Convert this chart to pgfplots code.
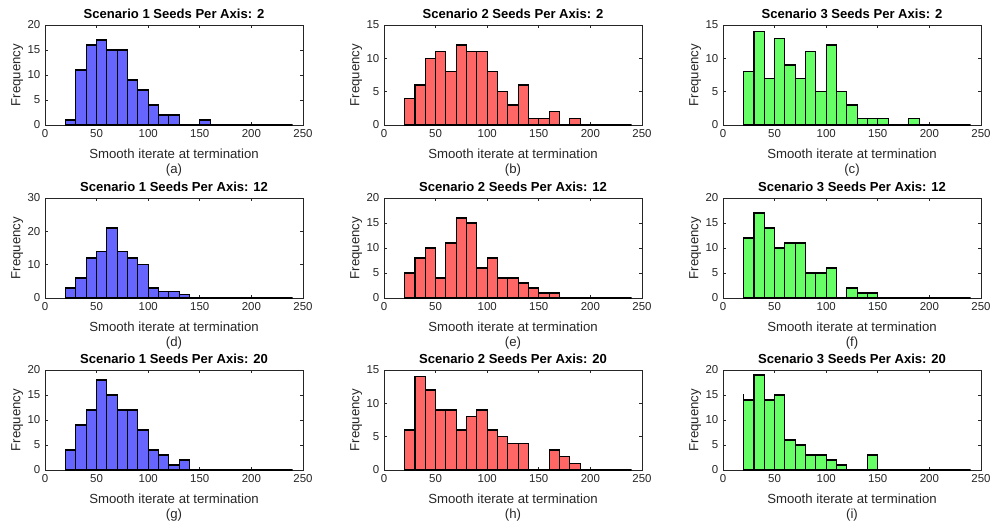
\documentclass[border=0pt]{standalone}
\usepackage{fontspec}
\setmainfont{Liberation Sans}
\usepackage{pgfplots}
\pgfplotsset{compat=1.18}
\definecolor{fblue}{RGB}{102,102,255}
\definecolor{fred}{RGB}{255,102,102}
\definecolor{fgreen}{RGB}{102,255,102}
\definecolor{axgray}{RGB}{38,38,38}
\pgfplotsset{hist/.style={
  scale only axis, width=193.5pt, height=75pt, anchor=south west, clip=false,
  xmin=0, xmax=250, ymin=0, xtick={0,50,...,250},
  tick align=inside, xtick pos=both, ytick pos=both, major tick length=2.2pt,
  /pgf/number format/assume math mode=true,
  axis line style={draw=axgray, line width=0.5pt},
  every tick/.style={draw=axgray, line width=0.5pt},
  ticklabel style={font=\fontsize{8.6}{9}\selectfont, text=axgray},
  xlabel={Smooth iterate at termination}, ylabel={Frequency},
  every axis x label/.style={at={(axis description cs:0.5,-0.29)}, anchor=center, font=\fontsize{9.9}{11}\selectfont, text=axgray},
  every axis y label/.style={at={(axis description cs:-0.108,0.5)}, anchor=center, rotate=90, font=\fontsize{9.9}{11}\selectfont, text=axgray},
  every axis title shift=0pt,
  title style={font=\bfseries\fontsize{9.8}{11}\selectfont, at={(axis description cs:0.5,1.11)}, anchor=center},
  hbar/.style={ybar interval, draw=black, line width=0.8pt},
}}
\newcommand{\sublabel}[1]{\node[font=\fontsize{9.9}{11}\selectfont, text=axgray] at (axis description cs:0.5,-0.45) {#1};}
\begin{document}
\begin{tikzpicture}
\useasboundingbox (0,0) rectangle (743.25pt,-393.75pt);
% (a)
\begin{axis}[hist, at={(33.75pt,-93.75pt)}, title={Scenario 1 Seeds Per Axis: 2}, ymax=20, ytick={0,5,10,15,20}]
\addplot[hbar, fill=fblue] coordinates {(20,1)(30,11)(40,16)(50,17)(60,15)(70,15)(80,9)(90,7)(100,4)(110,2)(120,2)(130,0)(140,0)(150,1)(160,0)(170,0)(180,0)(190,0)(200,0)(210,0)(220,0)(230,0)(240,0)};
\sublabel{(a)}
\end{axis}
% (b)
\begin{axis}[hist, at={(288pt,-93.75pt)}, title={Scenario 2 Seeds Per Axis: 2}, ymax=15, ytick={0,5,10,15}]
\addplot[hbar, fill=fred] coordinates {(20,4)(30,6)(40,10)(50,11)(60,8)(70,12)(80,11)(90,11)(100,8)(110,5)(120,3)(130,6)(140,1)(150,1)(160,2)(170,0)(180,1)(190,0)(200,0)(210,0)(220,0)(230,0)(240,0)};
\sublabel{(b)}
\end{axis}
% (c)
\begin{axis}[hist, at={(542.25pt,-93.75pt)}, title={Scenario 3 Seeds Per Axis: 2}, ymax=15, ytick={0,5,10,15}]
\addplot[hbar, fill=fgreen] coordinates {(19.6,2)(20.3,2)};
\addplot[hbar, fill=fgreen] coordinates {(20.3,8)(30,14)(40,7)(50,13)(60,9)(70,7)(80,11)(90,5)(100,12)(110,5)(120,3)(130,1)(140,1)(150,1)(160,0)(170,0)(180,1)(190,0)(200,0)(210,0)(220,0)(230,0)(240,0)};
\sublabel{(c)}
\end{axis}
% (d)
\begin{axis}[hist, at={(33.75pt,-223.5pt)}, title={Scenario 1 Seeds Per Axis: 12}, ymax=30, ytick={0,10,20,30}]
\addplot[hbar, fill=fblue] coordinates {(20,3)(30,6)(40,12)(50,14)(60,21)(70,14)(80,12)(90,10)(100,3)(110,2)(120,2)(130,1)(140,0)(150,0)(160,0)(170,0)(180,0)(190,0)(200,0)(210,0)(220,0)(230,0)(240,0)};
\sublabel{(d)}
\end{axis}
% (e)
\begin{axis}[hist, at={(288pt,-223.5pt)}, title={Scenario 2 Seeds Per Axis: 12}, ymax=20, ytick={0,5,10,15,20}]
\addplot[hbar, fill=fred] coordinates {(19.6,2)(20.3,2)};
\addplot[hbar, fill=fred] coordinates {(20.3,5)(30,8)(40,10)(50,4)(60,11)(70,16)(80,15)(90,6)(100,8)(110,4)(120,4)(130,3)(140,2)(150,1)(160,1)(170,0)(180,0)(190,0)(200,0)(210,0)(220,0)(230,0)(240,0)};
\sublabel{(e)}
\end{axis}
% (f)
\begin{axis}[hist, at={(542.25pt,-223.5pt)}, title={Scenario 3 Seeds Per Axis: 12}, ymax=20, ytick={0,5,10,15,20}]
\addplot[hbar, fill=fgreen] coordinates {(19.6,5)(20.3,5)};
\addplot[hbar, fill=fgreen] coordinates {(20.3,12)(30,17)(40,14)(50,10)(60,11)(70,11)(80,5)(90,5)(100,6)(110,0)(120,2)(130,1)(140,1)(150,0)(160,0)(170,0)(180,0)(190,0)(200,0)(210,0)(220,0)(230,0)(240,0)};
\sublabel{(f)}
\end{axis}
% (g)
\begin{axis}[hist, at={(33.75pt,-352.5pt)}, title={Scenario 1 Seeds Per Axis: 20}, ymax=20, ytick={0,5,10,15,20}]
\addplot[hbar, fill=fblue] coordinates {(20,4)(30,9)(40,12)(50,18)(60,15)(70,12)(80,12)(90,8)(100,4)(110,3)(120,1)(130,2)(140,0)(150,0)(160,0)(170,0)(180,0)(190,0)(200,0)(210,0)(220,0)(230,0)(240,0)};
\sublabel{(g)}
\end{axis}
% (h)
\begin{axis}[hist, at={(288pt,-352.5pt)}, title={Scenario 2 Seeds Per Axis: 20}, ymax=15, ytick={0,5,10,15}]
\addplot[hbar, fill=fred] coordinates {(19.6,2)(20.3,2)};
\addplot[hbar, fill=fred] coordinates {(20.3,6)(30,14)(40,12)(50,9)(60,9)(70,6)(80,8)(90,9)(100,6)(110,5)(120,4)(130,4)(140,0)(150,0)(160,3)(170,2)(180,1)(190,0)(200,0)(210,0)(220,0)(230,0)(240,0)};
\sublabel{(h)}
\end{axis}
% (i)
\begin{axis}[hist, at={(542.25pt,-352.5pt)}, title={Scenario 3 Seeds Per Axis: 20}, ymax=20, ytick={0,5,10,15,20}]
\addplot[hbar, fill=fgreen] coordinates {(19.6,15)(20.3,15)};
\addplot[hbar, fill=fgreen] coordinates {(20.3,14)(30,19)(40,14)(50,15)(60,6)(70,5)(80,3)(90,3)(100,2)(110,1)(120,0)(130,0)(140,3)(150,0)(160,0)(170,0)(180,0)(190,0)(200,0)(210,0)(220,0)(230,0)(240,0)};
\sublabel{(i)}
\end{axis}
\end{tikzpicture}
\end{document}
